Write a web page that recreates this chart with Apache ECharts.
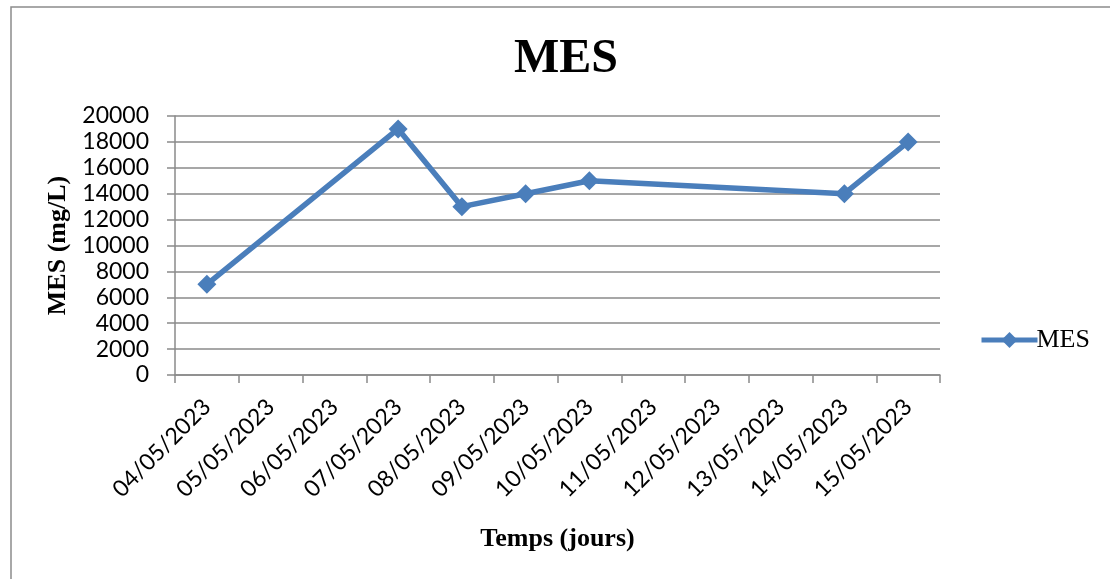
<!DOCTYPE html>
<html>
<head>
<meta charset="utf-8">
<script src="https://cdn.jsdelivr.net/npm/echarts@6/dist/echarts.min.js"></script>
<style>
  html, body { margin: 0; padding: 0; background: #fff; }
  #chart { width: 1110px; height: 579px; }
</style>
</head>
<body>
<div id="chart"></div>
<script>
// Sampling dates (category axis) and measured suspended solids (mg/L).
// Days without a measurement are left as null; the line joins across them.
const dates = ['04/05/2023', '05/05/2023', '06/05/2023', '07/05/2023', '08/05/2023', '09/05/2023',
               '10/05/2023', '11/05/2023', '12/05/2023', '13/05/2023', '14/05/2023', '15/05/2023'];
const mesValues = [7000, null, null, 19000, 13000, 14000, 15000, null, null, null, 14000, 18000];
const yTicks = { min: 0, max: 20000, step: 2000 };

const blue = '#4a7ebb';
const gridGray = '#8a8a8a';

const chart = echarts.init(document.getElementById('chart'), null, { renderer: 'canvas' });
chart.setOption({
  animation: false,
  backgroundColor: '#ffffff',
  graphic: [{
    type: 'rect',
    shape: { x: 11, y: 7, width: 1200, height: 700 },
    style: { fill: 'none', stroke: '#8c8c8c', lineWidth: 1.5 },
    silent: true
  }],
  title: {
    text: 'MES',
    left: 561,
    top: 31,
    textAlign: 'center',
    textStyle: { fontFamily: 'Liberation Serif', fontWeight: 'bold', fontSize: 48, color: '#000' }
  },
  legend: {
    data: ['MES'],
    left: 974,
    top: 322,
    itemWidth: 56,
    itemHeight: 20,
    itemGap: 4,
    lineStyle: { width: 5, color: blue },
    textStyle: { fontFamily: 'Liberation Serif', fontSize: 26, color: '#000', padding: [0, 0, 0, -6] }
  },
  grid: { left: 175, right: 170, top: 116, bottom: 204, containLabel: false },
  xAxis: {
    type: 'category',
    data: dates,
    boundaryGap: true,
    name: 'Temps (jours)',
    nameLocation: 'middle',
    nameGap: 151,
    nameTextStyle: { fontFamily: 'Liberation Serif', fontWeight: 'bold', fontSize: 26, color: '#000' },
    axisLine: { lineStyle: { color: gridGray, width: 1.5 } },
    axisTick: { show: true, length: 8, lineStyle: { color: gridGray, width: 1.5 } },
    axisLabel: {
      interval: 0,
      rotate: 45,
      margin: 28,
      fontFamily: 'Lato',
      fontSize: 23,
      color: '#000'
    }
  },
  yAxis: {
    type: 'value',
    min: yTicks.min,
    max: yTicks.max,
    interval: yTicks.step,
    name: 'MES (mg/L)',
    nameLocation: 'middle',
    nameGap: 97,
    nameTextStyle: { fontFamily: 'Liberation Serif', fontWeight: 'bold', fontSize: 26, color: '#000' },
    axisLine: { show: true, lineStyle: { color: gridGray, width: 1.5 } },
    axisTick: { show: true, length: 8, lineStyle: { color: gridGray, width: 1.5 } },
    axisLabel: {
      margin: 26,
      fontFamily: 'Lato',
      fontSize: 23,
      color: '#000',
      formatter: (v) => String(v)
    },
    splitLine: { show: true, lineStyle: { color: gridGray, width: 1.5 } }
  },
  series: [{
    name: 'MES',
    type: 'line',
    data: mesValues,
    connectNulls: true,
    symbol: 'diamond',
    symbolSize: 19,
    showAllSymbol: true,
    itemStyle: { color: blue },
    lineStyle: { color: blue, width: 5.5 }
  }]
});
</script>
</body>
</html>
